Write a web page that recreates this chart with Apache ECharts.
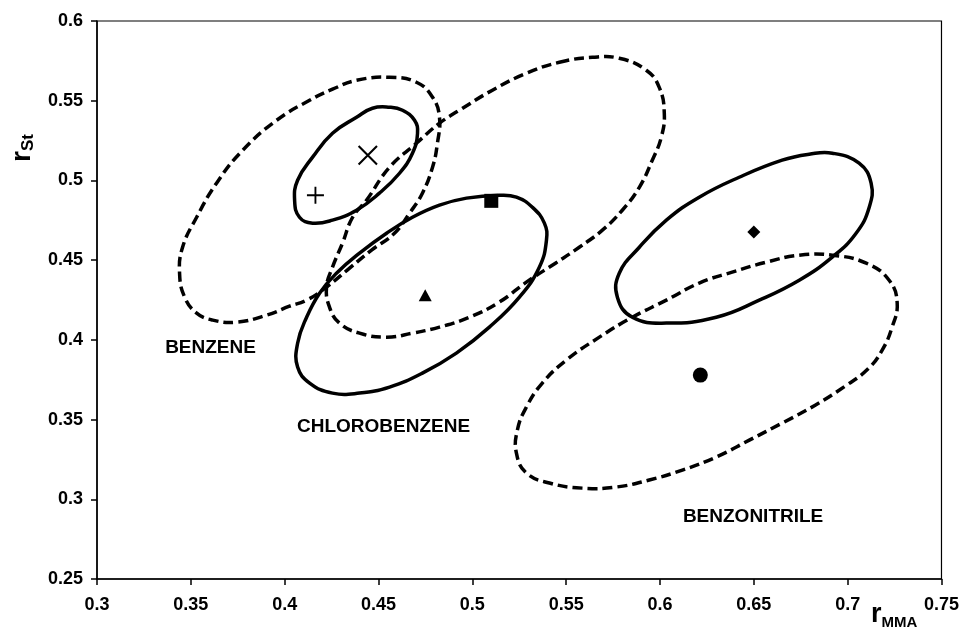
<!DOCTYPE html>
<html>
<head>
<meta charset="utf-8">
<script src="https://cdn.jsdelivr.net/npm/echarts@6/dist/echarts.min.js"></script>
<style>
html,body{margin:0;padding:0;background:#fff;}
#chart{width:962px;height:630px;}
</style>
</head>
<body>
<div id="chart"></div>
<script>
// ---- data ----
var xTicks = [0.3, 0.35, 0.4, 0.45, 0.5, 0.55, 0.6, 0.65, 0.7, 0.75];
var yTicks = [0.25, 0.3, 0.35, 0.4, 0.45, 0.5, 0.55, 0.6];

var benzeneSolid = [
[0.4468,0.5453],[0.4559,0.5459],[0.4628,0.5440],[0.4692,0.5377],[0.4708,0.5296],[0.4681,0.5171],[0.4612,0.5045],[0.4505,0.4920],[0.4383,0.4813],[0.4255,0.4751],[0.4149,0.4732],[0.4079,0.4769],[0.4053,0.4876],[0.4069,0.5001],[0.4149,0.5146],[0.4255,0.5296],[0.4383,0.5396]
];
var benzeneDashed = [
[0.4383,0.5628],[0.4559,0.5647],[0.4702,0.5616],[0.4788,0.5522],[0.4825,0.5396],[0.4814,0.5233],[0.4788,0.5083],[0.4734,0.4920],[0.4665,0.4794],[0.4585,0.4669],[0.4463,0.4563],[0.4346,0.4450],[0.4223,0.4331],[0.4117,0.4249],[0.4026,0.4211],[0.3904,0.4155],[0.3744,0.4111],[0.3616,0.4124],[0.3531,0.4168],[0.3467,0.4268],[0.3440,0.4418],[0.3456,0.4581],[0.3531,0.4769],[0.3637,0.4983],[0.3776,0.5189],[0.3957,0.5377],[0.4133,0.5503],[0.4255,0.5572]
];
var chloroSolid = [
[0.5144,0.4907],[0.5235,0.4895],[0.5320,0.4832],[0.5384,0.4732],[0.5395,0.4625],[0.5357,0.4456],[0.5251,0.4268],[0.5091,0.4080],[0.4915,0.3917],[0.4734,0.3791],[0.4559,0.3704],[0.4399,0.3666],[0.4255,0.3666],[0.4133,0.3729],[0.4069,0.3829],[0.4069,0.3979],[0.4117,0.4142],[0.4186,0.4293],[0.4276,0.4418],[0.4399,0.4544],[0.4543,0.4669],[0.4681,0.4769],[0.4825,0.4845],[0.4969,0.4889]
];
var chloroDashed = [
[0.5464,0.5741],[0.5640,0.5772],[0.5783,0.5766],[0.5927,0.5691],[0.5996,0.5584],[0.6023,0.5421],[0.6007,0.5271],[0.5959,0.5127],[0.5890,0.4957],[0.5799,0.4813],[0.5693,0.4688],[0.5570,0.4581],[0.5443,0.4481],[0.5288,0.4362],[0.5144,0.4237],[0.4985,0.4142],[0.4825,0.4080],[0.4681,0.4042],[0.4543,0.4017],[0.4399,0.4042],[0.4292,0.4105],[0.4239,0.4205],[0.4223,0.4331],[0.4255,0.4456],[0.4308,0.4606],[0.4362,0.4769],[0.4436,0.4876],[0.4559,0.5083],[0.4702,0.5233],[0.4825,0.5359],[0.4931,0.5440],[0.5107,0.5566],[0.5288,0.5672]
];
var benzonitrileSolid = [
[0.6795,0.5164],[0.6918,0.5171],[0.7061,0.5108],[0.7125,0.4983],[0.7115,0.4832],[0.7045,0.4669],[0.6918,0.4519],[0.6742,0.4374],[0.6529,0.4249],[0.6300,0.4142],[0.6034,0.4105],[0.5853,0.4142],[0.5773,0.4268],[0.5783,0.4418],[0.5890,0.4581],[0.6034,0.4751],[0.6209,0.4895],[0.6422,0.5020],[0.6651,0.5127]
];
var benzonitrileDashed = [
[0.6742,0.4531],[0.6918,0.4531],[0.7099,0.4481],[0.7221,0.4374],[0.7264,0.4230],[0.7237,0.4080],[0.7184,0.3936],[0.7109,0.3818],[0.6987,0.3710],[0.6827,0.3590],[0.6651,0.3478],[0.6476,0.3371],[0.6300,0.3265],[0.6119,0.3183],[0.5943,0.3121],[0.5767,0.3077],[0.5586,0.3070],[0.5411,0.3102],[0.5288,0.3165],[0.5235,0.3290],[0.5240,0.3434],[0.5288,0.3578],[0.5373,0.3729],[0.5501,0.3873],[0.5677,0.4017],[0.5853,0.4142],[0.6034,0.4249],[0.6209,0.4356],[0.6385,0.4425],[0.6566,0.4487]
];

var plusPoint = [0.4164, 0.4907];
var crossPoint = [0.4443, 0.5158];
var squarePoint = [0.5101, 0.4872];
var trianglePoint = [0.4749, 0.4280];
var diamondPoint = [0.6500, 0.4677];
var circlePoint = [0.6215, 0.3779];

var regionNames = ['BENZENE', 'CHLOROBENZENE', 'BENZONITRILE'];
var regionLabelAt = [[0.3605, 0.3948], [0.4527, 0.3453], [0.6496, 0.2889]];

// ---- chart ----
var FONT = '"Liberation Sans", Arial, Helvetica, sans-serif';
var chart = echarts.init(document.getElementById('chart'), null, {renderer: 'canvas'});

// closed smooth contour through the read points, placed with the axes' scales
function contour(name, pts, dashed) {
  return {
    name: name, type: 'custom', data: pts, z: 2, silent: true, animation: false,
    encode: {x: 0, y: 1},
    renderItem: function (params, api) {
      if (params.dataIndex !== 0) return null;
      var pix = pts.map(function (p) { return api.coord(p); });
      return {
        type: 'polygon',
        shape: {points: pix, smooth: 0.45},
        style: {fill: null, stroke: '#000', lineWidth: 3.5, lineDash: dashed ? [10, 5] : null}
      };
    }
  };
}
function marker(name, pt, symbol, size, rotate) {
  return {
    name: name, type: 'scatter', data: [pt], symbol: symbol, symbolSize: size,
    symbolRotate: rotate || 0, itemStyle: {color: '#000', opacity: 1}, z: 5, animation: false
  };
}

var plusPath = 'path://M0,8.9 H20 V11.1 H0 Z M8.9,0 H11.1 V20 H8.9 Z';
var crossPath = 'path://M0,9.2 H20 V10.8 H0 Z M9.2,0 H10.8 V20 H9.2 Z';

var option = {
  backgroundColor: '#fff',
  animation: false,
  grid: {left: 97, top: 21, right: 20, bottom: 51, show: true, borderColor: '#000', borderWidth: 1.2, backgroundColor: 'transparent'},
  xAxis: {
    type: 'value', min: xTicks[0], max: xTicks[xTicks.length - 1], interval: 0.05,
    axisLine: {show: true, onZero: false, lineStyle: {color: '#000', width: 1.5}},
    axisTick: {show: true, inside: false, length: 6, lineStyle: {color: '#000', width: 1.5}},
    axisLabel: {color: '#000', fontSize: 18, fontWeight: 'bold', fontFamily: FONT, margin: 17},
    splitLine: {show: false}
  },
  yAxis: {
    type: 'value', min: yTicks[0], max: yTicks[yTicks.length - 1], interval: 0.05,
    axisLine: {show: true, onZero: false, lineStyle: {color: '#000', width: 1.5}},
    axisTick: {show: true, inside: false, length: 6, lineStyle: {color: '#000', width: 1.5}},
    axisLabel: {color: '#000', fontSize: 18, fontWeight: 'bold', fontFamily: FONT, margin: 14},
    splitLine: {show: false}
  },
  graphic: [
    {
      type: 'text', x: 22, y: 148, rotation: Math.PI / 2, z: 10,
      style: {
        text: '{a|r}{b|St}', align: 'center', verticalAlign: 'middle', fill: '#000',
        rich: {
          a: {fontSize: 28, fontWeight: 'bold', fontFamily: FONT, lineHeight: 30, fill: '#000'},
          b: {fontSize: 17, fontWeight: 'bold', fontFamily: FONT, lineHeight: 13, verticalAlign: 'bottom', fill: '#000'}
        }
      }
    },
    {
      type: 'text', x: 871, y: 600, z: 10,
      style: {
        text: '{a|r}{b|MMA}', align: 'left', verticalAlign: 'top', fill: '#000',
        rich: {
          a: {fontSize: 27, fontWeight: 'bold', fontFamily: FONT, lineHeight: 30, fill: '#000'},
          b: {fontSize: 15, fontWeight: 'bold', fontFamily: FONT, lineHeight: 12, verticalAlign: 'bottom', fill: '#000'}
        }
      }
    }
  ],
  series: [
    contour('Benzene (solid)', benzeneSolid, false),
    contour('Benzene (dashed)', benzeneDashed, true),
    contour('Chlorobenzene (solid)', chloroSolid, false),
    contour('Chlorobenzene (dashed)', chloroDashed, true),
    contour('Benzonitrile (solid)', benzonitrileSolid, false),
    contour('Benzonitrile (dashed)', benzonitrileDashed, true),
    marker('plus', plusPoint, plusPath, 17, 0),
    marker('cross', crossPoint, crossPath, 26, 45),
    marker('square', squarePoint, 'rect', 14, 0),
    marker('triangle', trianglePoint, 'triangle', [13, 12], 0),
    marker('diamond', diamondPoint, 'diamond', [13, 13], 0),
    marker('circle', circlePoint, 'circle', 15, 0),
    {
      name: 'labels', type: 'custom', z: 6, silent: true, animation: false,
      data: regionLabelAt.map(function (p, i) { return {name: regionNames[i], value: p}; }),
      encode: {x: 0, y: 1},
      renderItem: function (params, api) {
        var c = api.coord([api.value(0), api.value(1)]);
        return {
          type: 'text', x: c[0], y: c[1],
          style: {text: regionNames[params.dataIndex], fill: '#000', font: 'bold 19px ' + FONT, align: 'center', verticalAlign: 'middle'}
        };
      }
    }
  ]
};
chart.setOption(option);
</script>
</body>
</html>
